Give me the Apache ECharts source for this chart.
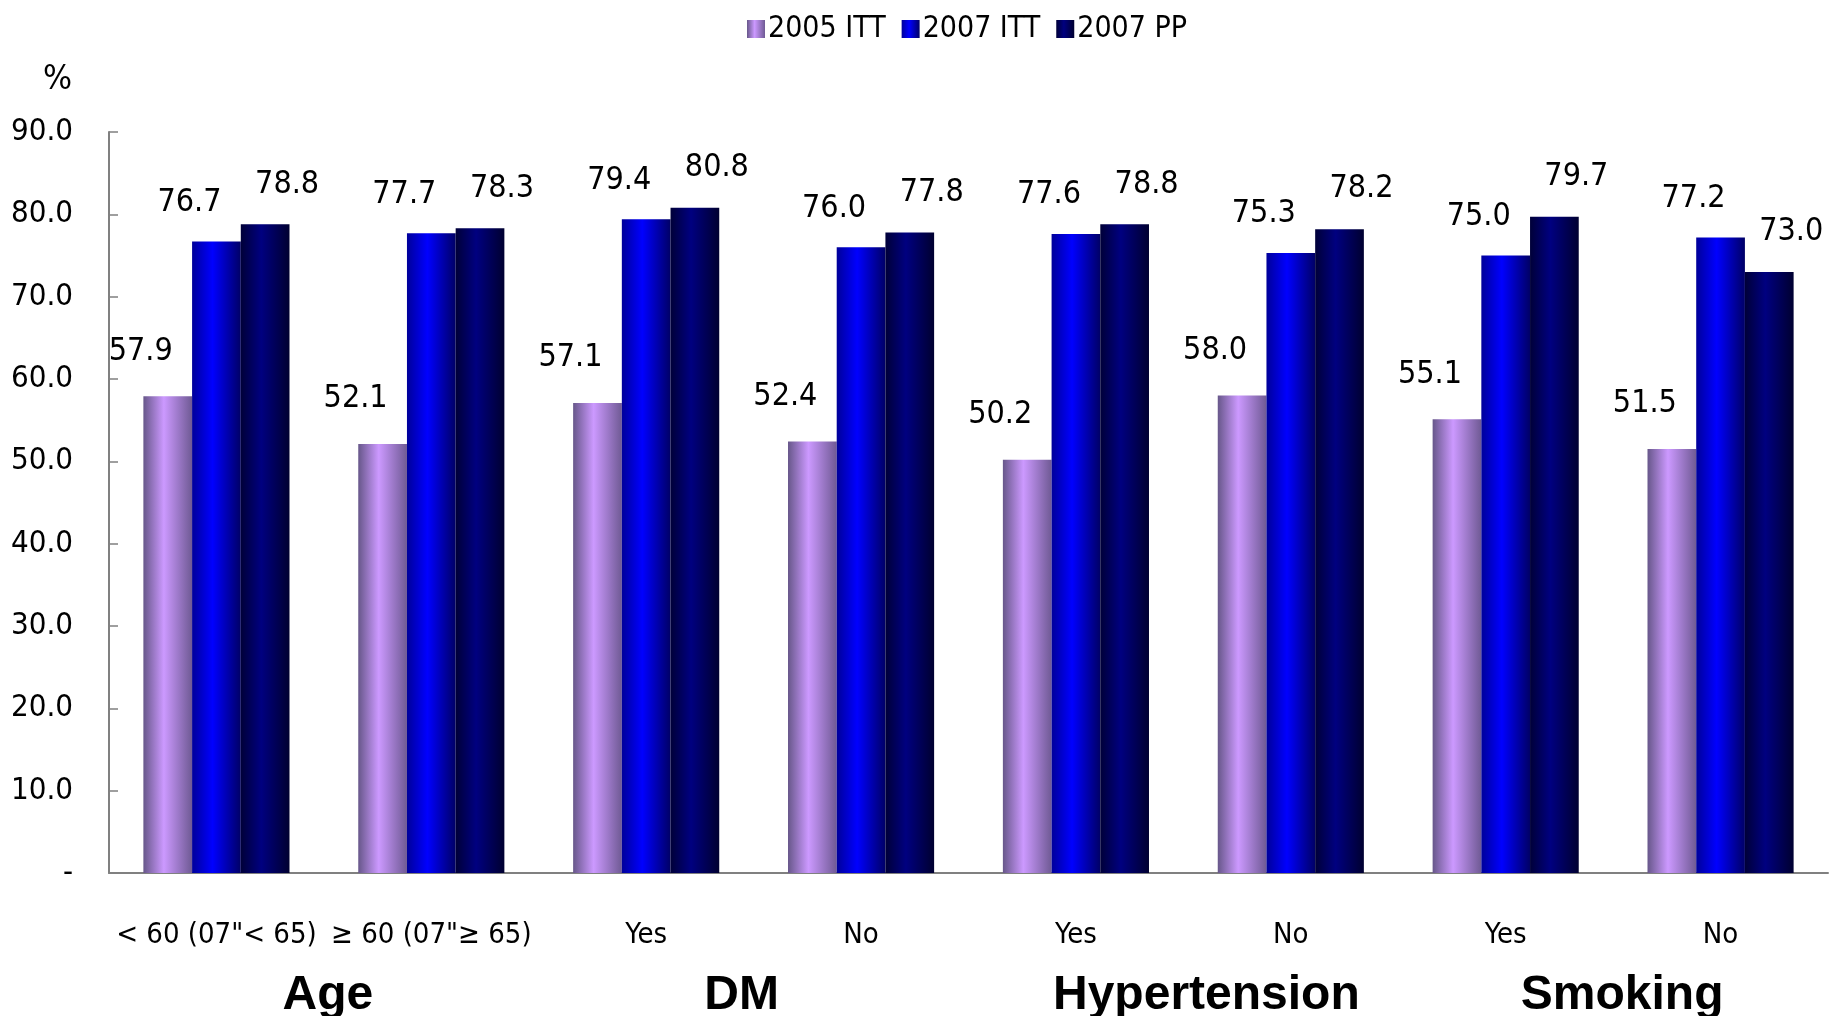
<!DOCTYPE html>
<html>
<head>
<meta charset="utf-8">
<script src="https://cdn.jsdelivr.net/npm/echarts@6/dist/echarts.min.js"></script>
<style>
html,body{margin:0;padding:0;background:#fff;}
#chart{width:1832px;height:1016px;}
</style>
</head>
<body>
<div id="chart"></div>
<script>
const categories = ['< 60 (07"< 65)', '\u2265 60 (07"\u2265 65)', 'Yes', 'No', 'Yes', 'No', 'Yes', 'No'];
const groups = ['Age', 'DM', 'Hypertension', 'Smoking'];
const seriesNames = ['2005 ITT', '2007 ITT', '2007 PP'];
const itt2005 = [57.9, 52.1, 57.1, 52.4, 50.2, 58.0, 55.1, 51.5];
const itt2007 = [76.7, 77.7, 79.4, 76.0, 77.6, 75.3, 75.0, 77.2];
const pp2007 = [78.8, 78.3, 80.8, 77.8, 78.8, 78.2, 79.7, 73.0];
const yTicks = [0, 10, 20, 30, 40, 50, 60, 70, 80, 90];

const NARROW = "'Liberation Sans Narrow', 'Arial Narrow', 'DejaVu Sans Condensed', sans-serif";
const WIDE = "'Liberation Sans', Arial, sans-serif";

function grad(c0, c1, c2) {
  return new echarts.graphic.LinearGradient(0, 0, 1, 0, [
    { offset: 0, color: c0 },
    { offset: 0.42, color: c1 },
    { offset: 1, color: c2 }
  ]);
}
const fills = [
  grad('#67578a', '#cc99ff', '#6f5a94'),
  grad('#00009a', '#0000ff', '#000066'),
  grad('#000038', '#000080', '#000030')
];
const labelOffsets = [[-27, -24], [-27, -18], [22, -19]];
const dataSets = [itt2005, itt2007, pp2007];

// horizontal nudges (px) of the bold group captions, as placed in the original
const groupShift = [8, -24, 46, 18];
const groupBase = { fontFamily: WIDE, fontSize: 48, lineHeight: 48, fontWeight: 'bold', color: '#000' };
const groupRich = {};
groupShift.forEach((s, i) => {
  groupRich['g' + i] = Object.assign({}, groupBase, {
    padding: s >= 0 ? [0, 0, 0, s] : [0, -s, 0, 0]
  });
});

const chart = echarts.init(document.getElementById('chart'));
chart.setOption({
  animation: false,
  title: {
    text: '%', left: 38, top: 58,
    textStyle: { fontFamily: NARROW, fontSize: 34, fontWeight: 'normal', color: '#000' }
  },
  legend: {
    left: 742, top: 9,
    itemWidth: 18, itemHeight: 18, itemGap: 16,
    textStyle: { fontFamily: NARROW, fontSize: 30, color: '#000', padding: [0, 0, 0, -2] },
    data: seriesNames.map((n, i) => ({ name: n, icon: 'rect', itemStyle: { color: fills[i] } }))
  },
  grid: { left: 109, right: 4, top: 132, bottom: 143, containLabel: false, outerBoundsMode: 'none' },
  xAxis: [
    {
      type: 'category', data: categories, position: 'bottom',
      axisLine: { lineStyle: { color: '#808080', width: 2 } },
      axisTick: { inside: true, length: 12, lineStyle: { color: '#808080', width: 1.5 } },
      axisLabel: { fontFamily: NARROW, fontSize: 29, lineHeight: 29, color: '#000', margin: 48, interval: 0 }
    },
    {
      type: 'category', data: groups, position: 'bottom', gridIndex: 0,
      axisLine: { show: false }, axisTick: { show: false },
      axisLabel: Object.assign({}, groupBase, {
        margin: 99, interval: 0, rich: groupRich,
        formatter: (v, i) => '{g' + i + '|' + v + '}'
      })
    }
  ],
  yAxis: {
    type: 'value', min: yTicks[0], max: yTicks[yTicks.length - 1], interval: 10,
    splitLine: { show: false },
    axisLine: { show: true, lineStyle: { color: '#808080', width: 2 } },
    axisTick: { show: true, inside: true, length: 9, lineStyle: { color: '#808080', width: 1.5 } },
    axisLabel: {
      fontFamily: NARROW, fontSize: 31, color: '#000', margin: 36,
      formatter: v => v === 0 ? '-' : v.toFixed(1)
    }
  },
  series: dataSets.map((d, i) => ({
    name: seriesNames[i], type: 'bar', data: d, xAxisIndex: 0,
    barGap: '0%', barCategoryGap: '32%',
    itemStyle: { color: fills[i] },
    label: {
      show: true, position: 'top', offset: labelOffsets[i],
      fontFamily: NARROW, fontSize: 32, color: '#000',
      formatter: p => p.value.toFixed(1)
    }
  }))
});
</script>
</body>
</html>
